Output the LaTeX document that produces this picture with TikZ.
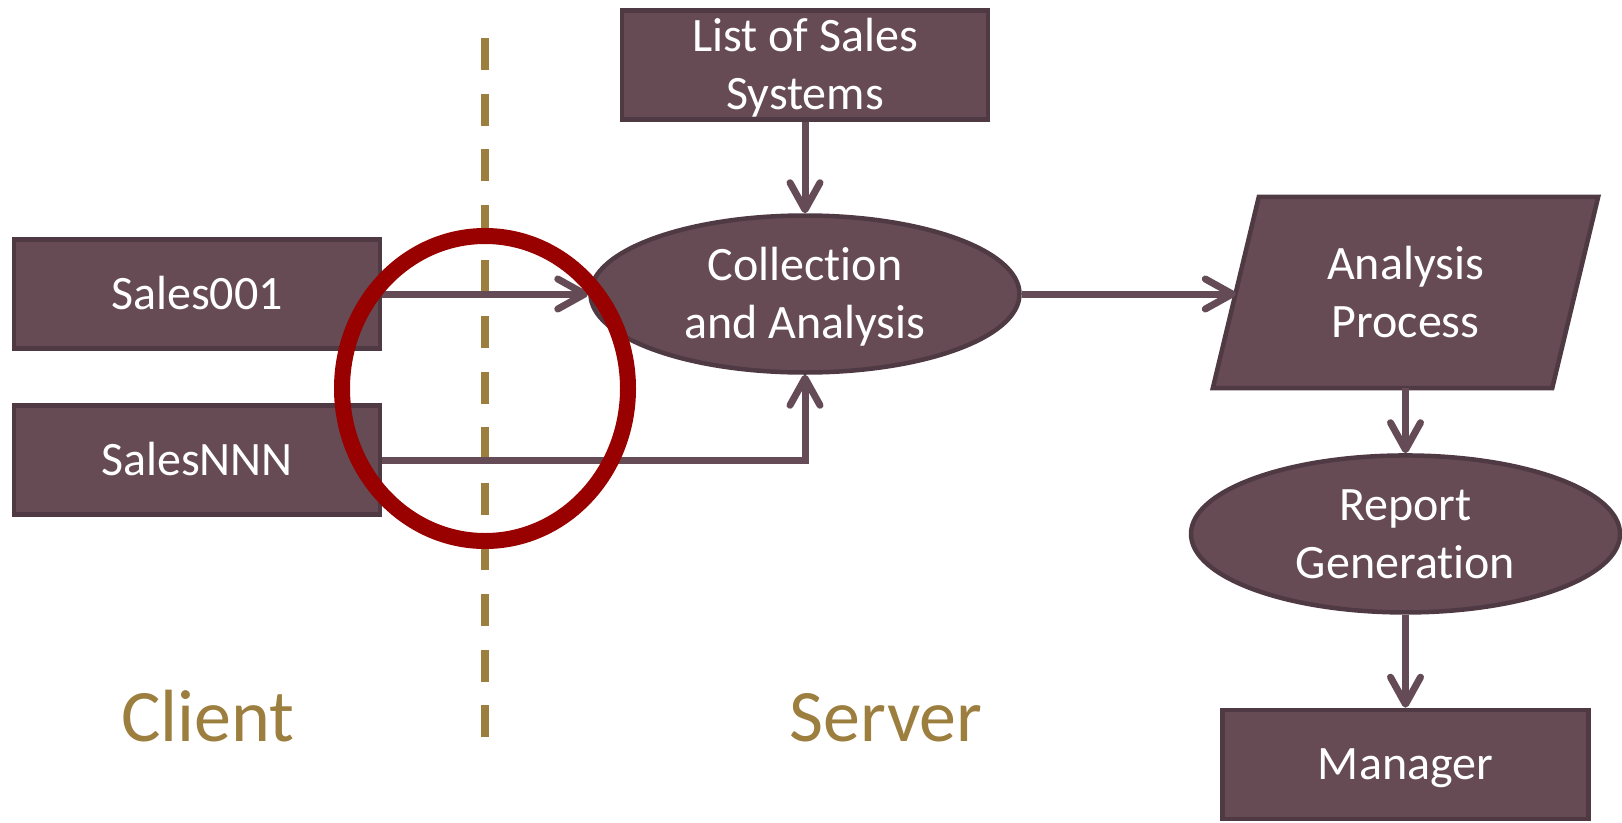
\documentclass[tikz,border=0pt]{standalone}
\usepackage{fontspec}
\setmainfont{Carlito}[Ligatures=NoCommon]
\usepackage{tikz}
\usetikzlibrary{shapes.geometric,arrows.meta,positioning,backgrounds}
\definecolor{plum}{HTML}{664B55}
\definecolor{plumedge}{HTML}{4F3A43}
\definecolor{plumline}{HTML}{654B56}
\definecolor{ochre}{HTML}{9C7E3F}
\definecolor{alert}{HTML}{990000}

\begin{document}
\begin{tikzpicture}[
  x=1pt, y=1pt,
  lbl/.style={inner sep=0pt, align=center, text=white,
              font=\fontsize{48}{58}\selectfont, text height=31pt, text depth=0pt},
  two/.style={text height=89pt},
  blk/.style={lbl, rectangle, draw=plumedge, fill=plum, line width=4.5pt,
              minimum width=366pt, minimum height=109pt},
  proc/.style={blk, ellipse, minimum width=429pt, minimum height=157pt},
  io/.style={lbl, rectangle, minimum width=339pt, minimum height=191pt},
  arr/.style={-{Straight Barb[length=27pt,width=30pt,round]}, line width=7pt, draw=plumline},
  side/.style={text=ochre, font=\fontsize{74}{88}\selectfont, anchor=base},
  divide/.style={draw=ochre, line width=8pt, dash pattern=on 32pt off 23.6pt},
]
\useasboundingbox (0,0) rectangle (1622,-822);
% client / server split
\coordinate (cut top) at (485,-38);
\coordinate (cut bot) at (485,-737);
\draw[divide] (cut top) -- (cut bot);
\node[side] (client) at (208,-741) {Client};
\node[side] (server) at (886,-741) {Server};

\node[blk, two] (sys)  at (805,-65)  {List of Sales\\Systems};
\node[blk] (s001) at (197,-294) {Sales001};
\node[blk] (snnn) at (197,-460) {SalesNNN};
\node[proc, two] (coll) at (805,-294) {Collection\\and Analysis};
\node[io, two] (anal) at (1405.5,-292.5) {Analysis\\Process};
\node[proc, two, below=65pt of anal] (rep) {Report\\Generation};
\node[blk, below=93pt of rep] (mgr) {Manager};

% slanted data box behind its text
\begin{scope}[on background layer]
\draw[draw=plumedge, fill=plum, line width=4.5pt]
  ([xshift=-23pt]anal.south west) -- ([xshift=-23pt]anal.south east)
  -- ([xshift=23pt]anal.north east) -- ([xshift=23pt]anal.north west) -- cycle;
\end{scope}

\draw[arr] (sys) -- (coll);
\draw[arr] (s001) -- (coll);
\draw[arr] (snnn.east) -| (coll.south);
\draw[arr] (coll.east) -- (coll.east -| anal.west);
\draw[arr] (anal) -- (rep);
\draw[arr] (rep) -- (mgr);

% highlight
\node[draw=alert, line width=16pt, ellipse, minimum width=286pt,
      minimum height=305pt] (focus) at (485,-388.5) {};
\end{tikzpicture}
\end{document}
